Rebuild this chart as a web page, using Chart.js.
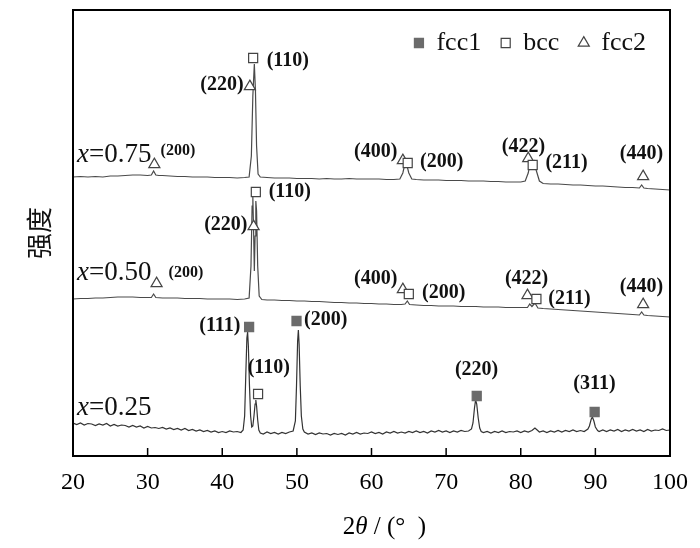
<!DOCTYPE html>
<html><head><meta charset="utf-8">
<script src="https://cdn.jsdelivr.net/npm/chart.js@4.4.1/dist/chart.umd.min.js"></script>
<style>html,body{margin:0;padding:0;background:#fff;}#c{display:block;}</style>
</head><body>
<canvas id="c" width="700" height="548"></canvas>
<script>
// ---- data (2θ in degrees, intensity in arbitrary units, traces offset) ----
const angles075 = [
20,21,22,23,24,25,26,27,28,29,
30,30.5,30.8,31.1,31.5,32,33,34,35,36,
37,38,39,40,41,42,43,43.6,43.9,44.1,
44.3,44.45,44.6,44.8,45.1,46,47,48,49,50,
51,52,53,54,55,56,57,58,59,60,
61,62,63,63.8,64.2,64.5,64.7,65,65.4,66,
67,68,69,70,71,72,73,74,75,76,
77,78,79,80,80.6,81,81.3,81.5,81.8,82.1,
82.5,83,84,85,86,87,88,89,90,91,
92,93,94,95,95.9,96.2,96.5,97,98,99,100];
const intens075 = [
279,279.5,279,279.5,279,280,280,280.5,281,281,
280.5,281,285,281,280.5,280.5,280,279.5,279.5,279,
279,279,278.5,278.5,278.5,278,278.5,279,300,360,
392,365,310,282,279,278.5,278,278,278,277.5,
277.5,277.5,277,277.5,277,277,277.5,277,277,277,
277,276.5,276.5,277,283,293,292,283,277,276.5,
276,276,276,275.5,275.5,275.5,275,275,275,274.5,
274.5,274,274,274,275,283,294,292,295,285,
275,272.5,272,272,271.5,271,271,270.5,270,270,
269.5,269,268.5,268.5,268,271,268,267.5,267,266.5,266];

const angles050 = [
20,21,22,23,24,25,26,27,28,29,
30,30.5,30.8,31.1,32,33,34,35,36,37,
38,39,40,41,42,43,43.6,43.85,44,44.1,
44.2,44.3,44.4,44.5,44.6,44.75,44.95,45.3,46,47,
48,49,50,51,52,53,54,55,56,57,
58,59,60,61,62,63,64,64.5,64.8,65.1,
66,67,68,69,70,71,72,73,74,75,
76,77,78,79,80,80.9,81.2,81.5,81.9,82.3,
83,84,85,86,87,88,89,90,91,92,
93,94,95,95.9,96.2,96.5,97,98,99,100];
const intens050 = [
157,157.5,157.5,158,158,158.5,159,159,159,158.5,
158.5,158.5,162,158.5,158,158,158,157.5,157.5,157.5,
157,157,157,157,156.5,157,158,190,250,259,
225,185,220,255,245,190,160,156.5,156,156,
155.5,155.5,155,155,154.5,154.5,154,153.5,153.5,153,
153,152.5,152.5,152,152,151.5,151.5,152,155,151.5,
151,150.5,150.5,150,150,150,149.5,149.5,149.5,149,
149,149,148.5,148.5,148.5,148.5,152,149.5,153,148,
147.5,147,146.5,146,145.5,145,144.5,144,143.5,143,
142.5,142,141.5,141,144,141,140.5,140,139.5,139];

const angles025 = [
20,20.5,21,21.5,22,22.5,23,23.5,24,24.5,
25,25.5,26,26.5,27,27.5,28,28.5,29,29.5,
30,30.5,31,31.5,32,32.5,33,33.5,34,34.5,
35,35.5,36,36.5,37,37.5,38,38.5,39,39.5,
40,40.5,41,41.5,42,42.5,42.8,43,43.15,43.3,
43.4,43.5,43.65,43.8,43.95,44.1,44.25,44.4,44.5,44.6,
44.75,44.9,45.1,45.5,46,46.5,47,47.5,48,48.5,
49,49.5,49.8,49.95,50.1,50.2,50.3,50.45,50.6,50.8,
51,51.5,52,52.5,53,53.5,54,54.5,55,55.5,
56,56.5,57,57.5,58,58.5,59,59.5,60,60.5,
61,61.5,62,62.5,63,63.5,64,64.5,65,65.5,
66,66.5,67,67.5,68,68.5,69,69.5,70,70.5,
71,71.5,72,72.5,73,73.4,73.6,73.8,73.95,74.1,
74.3,74.5,74.7,75,75.5,76,76.5,77,77.5,78,
78.5,79,79.5,80,80.5,81,81.5,81.9,82.2,82.5,
83,83.5,84,84.5,85,85.5,86,86.5,87,87.5,
88,88.5,89,89.2,89.45,89.6,89.8,90,90.3,90.5,
91,91.5,92,92.5,93,93.5,94,94.5,95,95.5,
96,96.5,97,97.5,98,98.5,99,99.5,100];
const intens025 = [
33,31.5,33,31,32.5,32,30.5,32,31,32.5,
30,31.5,30,31,30.5,29,30.5,29,30,28,
29.5,28,28.5,27.5,28.5,27,28,26.5,27.5,26,
27.5,25.5,26.5,25,26,24.5,25.5,24,25,23.5,
24.5,23.5,25,24,24.5,23.5,26,40,80,118,
124,110,70,40,29,30,40,52,56,50,
36,26,23,22,24,22.5,23.5,22,23.5,22.5,
24,25,35,70,115,126,112,70,40,27,
24,22,23,21.5,23,22,22.5,21,22.5,21.5,
22.5,21,23,22,23.5,22,23,22.5,24,22.5,
23.5,22,24,23,24.5,23,24,23,24.5,23.5,
25,23.5,24.5,23,25,24,25.5,24,25,23.5,
25,24,25.5,24.5,25,27,33,48,56,52,
38,28,24.5,23.5,24.5,23,24.5,23.5,25,23.5,
24.5,24,25,23.5,25,24,25.5,28,26,24,
25,23.5,25,24,25.5,24,25.5,24.5,26,24.5,
25.5,24.5,27,30,37,39,35,29,25.5,24.5,
26,24.5,26,25,26.5,24.5,26,25,26.5,25,
26,24.5,26.5,25,26,25.5,27,25.5,26];

// phase markers
const fcc1Angles = [43.6, 49.95, 74.1, 89.9];
const fcc1Intens = [129, 135, 60, 44];
const bccAngles = [44.14, 64.85, 81.6, 44.5, 65.0, 82.1, 44.8];
const bccIntens = [398, 293, 291, 264, 162, 157, 62];
const fcc2Angles = [30.9, 43.7, 64.2, 81.0, 96.4, 31.2, 44.2, 64.2, 80.9, 96.4];
const fcc2Intens = [291.5, 369.5, 295.5, 297.5, 279.5, 172.5, 229.5, 166.5, 160.5, 151.5];

// peak index labels
const hklTexts  = ['(110)','(220)','(400)','(200)','(422)','(211)','(440)',
                   '(110)','(220)','(400)','(200)','(422)','(211)','(440)',
                   '(111)','(200)','(110)','(220)','(311)'];
const hklAngles = [48.78,39.95,60.56,69.40,80.37,86.13,96.17,
                   49.05,40.48,60.56,69.67,80.78,86.53,96.17,
                   39.68,53.87,46.24,74.08,89.88];
const hklIntens = [395,371,304,294,309,293,302,
                   264,231,177,163,177,157,169,
                   130,136,88,86,72];
const smallHklTexts  = ['(200)','(200)'];
const smallHklAngles = [34.06, 35.13];
const smallHklIntens = [305, 183];

const seriesNames = ['0.75','0.50','0.25'];
const seriesLabelAngle = 20.54;
const seriesLabelIntens = [301, 183, 48];

const phaseNames = ['fcc1','bcc','fcc2'];
const xTicks = [20,30,40,50,60,70,80,90,100];

// ---- build ----
const pts = (a, v) => a.map((x, i) => ({x, y: v[i]}));
const SERIF = '"Liberation Serif", "Times New Roman", serif';

const annot = {
  id: 'annot',
  afterDatasetsDraw(chart) {
    const {ctx, chartArea: a} = chart;
    const xs = chart.scales.x, ys = chart.scales.y;
    ctx.save();
    ctx.fillStyle = '#111';
    ctx.textAlign = 'center';
    ctx.textBaseline = 'middle';
    ctx.font = 'bold 20px ' + SERIF;
    hklTexts.forEach((t, i) => ctx.fillText(t, xs.getPixelForValue(hklAngles[i]), ys.getPixelForValue(hklIntens[i])));
    ctx.font = 'bold 16px ' + SERIF;
    smallHklTexts.forEach((t, i) => ctx.fillText(t, xs.getPixelForValue(smallHklAngles[i]), ys.getPixelForValue(smallHklIntens[i])));
    ctx.textAlign = 'left';
    seriesNames.forEach((n, i) => {
      let px = xs.getPixelForValue(seriesLabelAngle);
      const py = ys.getPixelForValue(seriesLabelIntens[i]);
      ctx.font = 'italic 27px ' + SERIF;
      ctx.fillText('x', px, py);
      px += ctx.measureText('x').width;
      ctx.font = '27px ' + SERIF;
      ctx.fillText('=' + n, px, py);
    });
    // legend (phase symbols), top-right inside the plot
    ctx.font = '26px ' + SERIF;
    const box = 9, gapIn = 13, gapOut = 20;
    const widths = phaseNames.map(n => ctx.measureText(n).width);
    const total = widths.reduce((s, w) => s + w + box + gapIn, 0) + gapOut * (phaseNames.length - 1);
    let lx = a.right - 24 - total;
    const ly = a.top + 33;
    phaseNames.forEach((n, i) => {
      const ds = chart.data.datasets[i];
      ctx.fillStyle = ds.backgroundColor;
      ctx.strokeStyle = ds.borderColor;
      ctx.lineWidth = ds.borderWidth;
      Chart.helpers.drawPoint(ctx, {pointStyle: ds.pointStyle, radius: ds.pointRadius, rotation: 0, borderWidth: ds.borderWidth}, lx + box / 2, ly);
      lx += box + gapIn;
      ctx.fillStyle = '#111';
      ctx.fillText(n, lx, ly);
      lx += widths[i] + gapOut;
    });
    // frame
    ctx.lineWidth = 2;
    ctx.strokeStyle = '#000';
    ctx.strokeRect(a.left, a.top, a.width, a.height);
    // inward ticks
    ctx.lineWidth = 1.5;
    xs.ticks.forEach(t => {
      if (t.value > xs.min && t.value < xs.max) {
        const px = xs.getPixelForValue(t.value);
        ctx.beginPath(); ctx.moveTo(px, a.bottom); ctx.lineTo(px, a.bottom - 8); ctx.stroke();
      }
    });
    // x-axis title with italic theta
    const parts = [['2', ''], ['θ', 'italic '], [' / (°  )', '']];
    let w = 0;
    parts.forEach(p => { ctx.font = p[1] + '25px ' + SERIF; w += ctx.measureText(p[0]).width; });
    let px = (a.left + a.right) / 2 + 13 - w / 2;
    const py = a.bottom + 71;
    ctx.fillStyle = '#000';
    parts.forEach(p => { ctx.font = p[1] + '25px ' + SERIF; ctx.fillText(p[0], px, py); px += ctx.measureText(p[0]).width; });
    ctx.restore();
  }
};

const markerDs = (label, a, v, style, fill, stroke) => ({
  label, data: pts(a, v), showLine: false, pointStyle: style, pointRadius: 6.4, pointHoverRadius: 6.4,
  backgroundColor: fill, borderColor: stroke, borderWidth: 1.2, pointBackgroundColor: fill, pointBorderColor: stroke
});
const traceDs = (label, a, v, color) => ({
  label, data: pts(a, v), showLine: true, pointRadius: 0, borderWidth: 1.2, borderColor: color, fill: false, tension: 0
});

new Chart(document.getElementById('c'), {
  type: 'scatter',
  data: {
    datasets: [
      markerDs(phaseNames[0], fcc1Angles, fcc1Intens, 'rect', '#6b6b6b', '#6b6b6b'),
      markerDs(phaseNames[1], bccAngles, bccIntens, 'rect', '#ffffff', '#444'),
      markerDs(phaseNames[2], fcc2Angles, fcc2Intens, 'triangle', '#ffffff', '#444'),
      traceDs('x=' + seriesNames[0], angles075, intens075, '#4a4a4a'),
      traceDs('x=' + seriesNames[1], angles050, intens050, '#4a4a4a'),
      traceDs('x=' + seriesNames[2], angles025, intens025, '#333')
    ]
  },
  options: {
    responsive: false,
    devicePixelRatio: 1,
    animation: false,
    layout: {padding: {top: 10, right: 29, left: 0, bottom: 0}},
    plugins: {
      tooltip: {enabled: false},
      legend: {display: false}
    },
    scales: {
      x: {
        type: 'linear', min: xTicks[0], max: xTicks[xTicks.length - 1],
        afterBuildTicks: s => { s.ticks = xTicks.map(v => ({value: v})); },
        afterFit: s => { s.height = 92; },
        grid: {display: false, drawTicks: false},
        border: {display: false},
        ticks: {font: {family: SERIF, size: 24}, color: '#000', padding: 12, maxRotation: 0, autoSkip: false}
      },
      y: {
        type: 'linear', min: 0, max: 446,
        afterFit: s => { s.width = 73; },
        grid: {display: false, drawTicks: false},
        border: {display: false},
        ticks: {display: false},
        title: {display: true, text: '强度', font: {family: '"Noto Sans CJK SC"', size: 26}, color: '#111', padding: {top: 24, bottom: 0}}
      }
    }
  },
  plugins: [annot]
});
</script>
</body></html>
